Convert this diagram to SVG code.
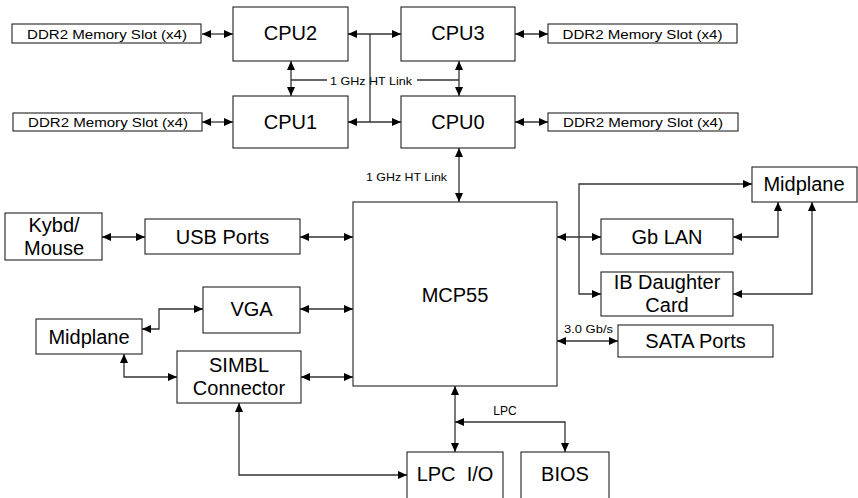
<svg xmlns="http://www.w3.org/2000/svg" width="858" height="498" viewBox="0 0 858 498">
<style>
.box{fill:#fff;stroke:#222;stroke-width:1.1}
.t{font-family:"Liberation Sans",Arial,sans-serif;font-size:20px;fill:#000;text-anchor:middle}
.s{font-family:"Liberation Sans",Arial,sans-serif;font-size:12.5px;fill:#000;text-anchor:middle}
.l{font-family:"Liberation Sans",Arial,sans-serif;font-size:11px;fill:#000;text-anchor:middle}
.c{fill:none;stroke:#333;stroke-width:1.3}
</style>
<defs>
<marker id="a" markerUnits="userSpaceOnUse" markerWidth="9" markerHeight="8" refX="9" refY="4" orient="auto-start-reverse"><path d="M0,0 L9,4 L0,8 z" fill="#000"/></marker>
</defs>
<rect width="858" height="498" fill="#fff"/>
<g id="connectors">
<line class="c" x1="202" y1="34" x2="233" y2="34" marker-start="url(#a)" marker-end="url(#a)"/>
<line class="c" x1="202" y1="122" x2="233" y2="122" marker-start="url(#a)" marker-end="url(#a)"/>
<line class="c" x1="515" y1="34" x2="548" y2="34" marker-start="url(#a)" marker-end="url(#a)"/>
<line class="c" x1="515" y1="122" x2="548" y2="122" marker-start="url(#a)" marker-end="url(#a)"/>
<line class="c" x1="291" y1="61" x2="291" y2="96" marker-start="url(#a)" marker-end="url(#a)"/>
<line class="c" x1="459" y1="61" x2="459" y2="96" marker-start="url(#a)" marker-end="url(#a)"/>
<line class="c" x1="291" y1="80" x2="327" y2="80"/>
<line class="c" x1="417" y1="80" x2="459" y2="80"/>
<text class="l" x="371" y="84.5" textLength="82" lengthAdjust="spacingAndGlyphs">1 GHz HT Link</text>
<line class="c" x1="348" y1="34" x2="401" y2="34" marker-start="url(#a)" marker-end="url(#a)"/>
<line class="c" x1="370" y1="34" x2="370" y2="122"/>
<line class="c" x1="348" y1="122" x2="401" y2="122" marker-start="url(#a)" marker-end="url(#a)"/>
<line class="c" x1="459" y1="148" x2="459" y2="202" marker-start="url(#a)" marker-end="url(#a)"/>
<text class="l" x="406.5" y="181" textLength="81" lengthAdjust="spacingAndGlyphs">1 GHz HT Link</text>
<line class="c" x1="102" y1="237" x2="145" y2="237" marker-start="url(#a)" marker-end="url(#a)"/>
<line class="c" x1="300" y1="237" x2="353" y2="237" marker-start="url(#a)" marker-end="url(#a)"/>
<line class="c" x1="300" y1="309" x2="353" y2="309" marker-start="url(#a)" marker-end="url(#a)"/>
<path class="c" d="M142,329 H159 V309 H203" marker-start="url(#a)" marker-end="url(#a)"/>
<line class="c" x1="301" y1="377" x2="353" y2="377" marker-start="url(#a)" marker-end="url(#a)"/>
<path class="c" d="M124,354 V377 H177" marker-start="url(#a)" marker-end="url(#a)"/>
<path class="c" d="M239,403 V475 H407" marker-start="url(#a)" marker-end="url(#a)"/>
<line class="c" x1="455" y1="386" x2="455" y2="452" marker-start="url(#a)" marker-end="url(#a)"/>
<path class="c" d="M455,422 H565 V452" marker-start="url(#a)" marker-end="url(#a)"/>
<text class="l" x="505" y="415" style="font-size:12px">LPC</text>
<line class="c" x1="557" y1="237" x2="601" y2="237" marker-start="url(#a)" marker-end="url(#a)"/>
<path class="c" d="M752,184 H579 V294 H601" marker-start="url(#a)" marker-end="url(#a)"/>
<path class="c" d="M733,237 H778 V202" marker-start="url(#a)" marker-end="url(#a)"/>
<path class="c" d="M733,294 H812 V202" marker-start="url(#a)" marker-end="url(#a)"/>
<line class="c" x1="557" y1="341" x2="618" y2="341" marker-start="url(#a)" marker-end="url(#a)"/>
<text class="l" x="588.5" y="333" style="font-size:11.5px" textLength="49" lengthAdjust="spacingAndGlyphs">3.0 Gb/s</text>
</g>
<g id="ddr-tl"><rect class="box" x="12" y="24" width="189" height="19"/><text class="s" x="107" y="38.5" textLength="160" lengthAdjust="spacingAndGlyphs">DDR2 Memory Slot (x4)</text></g>
<g id="ddr-bl"><rect class="box" x="13" y="113" width="189" height="18"/><text class="s" x="108" y="127" textLength="160" lengthAdjust="spacingAndGlyphs">DDR2 Memory Slot (x4)</text></g>
<g id="ddr-tr"><rect class="box" x="548" y="24" width="189" height="19"/><text class="s" x="642.5" y="38.5" textLength="160" lengthAdjust="spacingAndGlyphs">DDR2 Memory Slot (x4)</text></g>
<g id="ddr-br"><rect class="box" x="548" y="113" width="190" height="18"/><text class="s" x="643" y="127" textLength="160" lengthAdjust="spacingAndGlyphs">DDR2 Memory Slot (x4)</text></g>
<g id="cpu2"><rect class="box" x="233" y="7" width="115" height="54"/><text class="t" x="290.5" y="40">CPU2</text></g>
<g id="cpu3"><rect class="box" x="401" y="7" width="114" height="54"/><text class="t" x="458" y="40">CPU3</text></g>
<g id="cpu1"><rect class="box" x="233" y="96" width="115" height="52"/><text class="t" x="290.5" y="128.5">CPU1</text></g>
<g id="cpu0"><rect class="box" x="401" y="96" width="114" height="52"/><text class="t" x="458" y="128.5">CPU0</text></g>
<g id="mcp55"><rect class="box" x="353" y="202" width="204" height="184"/><text class="t" x="455" y="302">MCP55</text></g>
<g id="kybd"><rect class="box" x="5" y="213" width="97" height="47"/><text class="t" x="54" y="232">Kybd/</text><text class="t" x="54" y="255">Mouse</text></g>
<g id="usb"><rect class="box" x="145" y="219" width="155" height="35"/><text class="t" x="222.5" y="244">USB Ports</text></g>
<g id="vga"><rect class="box" x="203" y="287" width="97" height="46"/><text class="t" x="251.5" y="316">VGA</text></g>
<g id="midplane-l"><rect class="box" x="36" y="319" width="106" height="35"/><text class="t" x="89" y="344">Midplane</text></g>
<g id="simbl"><rect class="box" x="177" y="351" width="124" height="52"/><text class="t" x="239" y="372">SIMBL</text><text class="t" x="239" y="394.5">Connector</text></g>
<g id="lpcio"><rect class="box" x="407" y="452" width="96" height="55"/><text class="t" x="455" y="481" style="white-space:pre">LPC  I/O</text></g>
<g id="bios"><rect class="box" x="521" y="452" width="88" height="55"/><text class="t" x="565" y="481">BIOS</text></g>
<g id="midplane-r"><rect class="box" x="752" y="167" width="105" height="35"/><text class="t" x="804" y="191">Midplane</text></g>
<g id="gblan"><rect class="box" x="601" y="219" width="132" height="35"/><text class="t" x="667" y="244">Gb LAN</text></g>
<g id="ib"><rect class="box" x="601" y="272" width="132" height="44"/><text class="t" x="667" y="288.5">IB Daughter</text><text class="t" x="667" y="311.5">Card</text></g>
<g id="sata"><rect class="box" x="618" y="325" width="155" height="32"/><text class="t" x="695.5" y="347.5">SATA Ports</text></g>
</svg>
